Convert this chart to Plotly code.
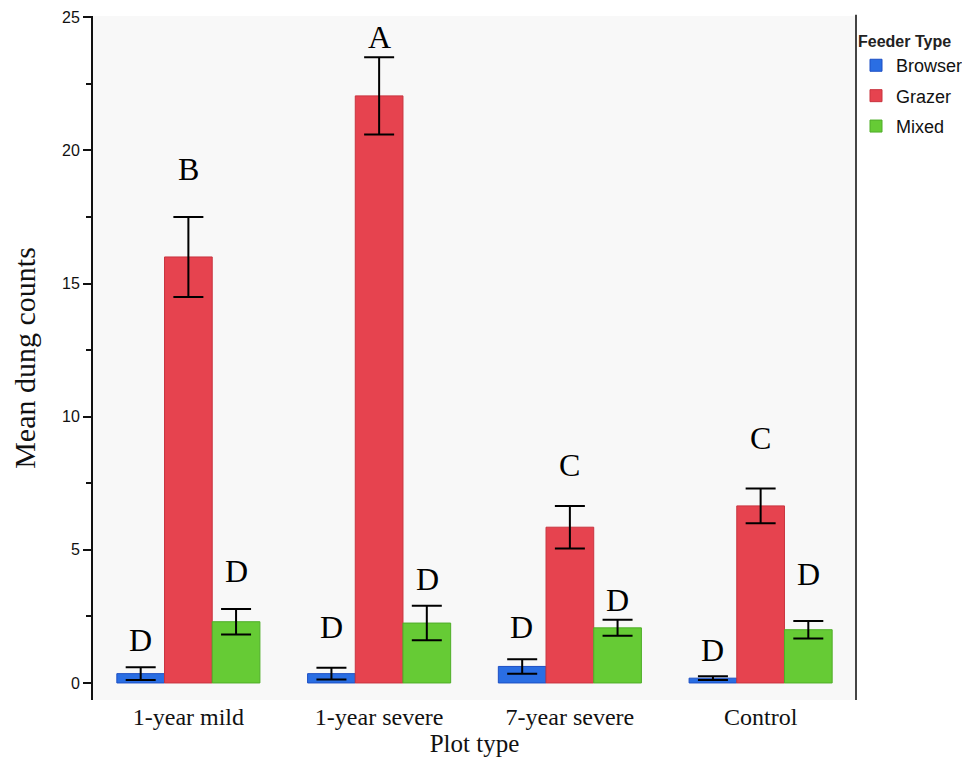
import plotly.graph_objects as go

categories = ["1-year mild", "1-year severe", "7-year severe", "Control"]
feeder_types = ["Browser", "Grazer", "Mixed"]

browser_mean = [0.35, 0.35, 0.62, 0.18]
browser_err = [0.24, 0.22, 0.27, 0.07]
grazer_mean = [16.0, 22.05, 5.85, 6.65]
grazer_err = [1.5, 1.45, 0.8, 0.65]
mixed_mean = [2.3, 2.25, 2.07, 2.0]
mixed_err = [0.48, 0.65, 0.3, 0.33]

browser_letters = ["D", "D", "D", "D"]
grazer_letters = ["B", "A", "C", "C"]
mixed_letters = ["D", "D", "D", "D"]
browser_letter_y = [1.6, 2.1, 2.1, 1.25]
grazer_letter_y = [19.3, 24.25, 8.2, 9.2]
mixed_letter_y = [4.2, 3.9, 3.1, 4.1]

colors = ["#2a6ee3", "#e6434f", "#66cb35"]
edges = ["#1d4fc4", "#c9343f", "#4fae28"]

means = [browser_mean, grazer_mean, mixed_mean]
errs = [browser_err, grazer_err, mixed_err]
letters = [browser_letters, grazer_letters, mixed_letters]
letter_y = [browser_letter_y, grazer_letter_y, mixed_letter_y]

fig = go.Figure()
for i, name in enumerate(feeder_types):
    fig.add_trace(go.Bar(
        x=categories, y=means[i], name=name, legendgroup=name,
        marker=dict(color=colors[i], line=dict(color=edges[i], width=1)),
        error_y=dict(type="data", array=errs[i], color="black", thickness=2, width=15),
    ))

serif = "Liberation Serif, DejaVu Serif, serif"
sans = "Liberation Sans, Arial, sans-serif"

offsets = [-48, 0, 48]
annotations = []
for i in range(3):
    for j, cat in enumerate(categories):
        annotations.append(dict(
            x=cat, y=letter_y[i][j], xref="x", yref="y", text=letters[i][j],
            showarrow=False, xshift=offsets[i],
            font=dict(family=serif, size=32, color="black"),
        ))

fig.update_layout(
    width=962, height=757,
    margin=dict(l=85, r=114, t=8, b=65, autoexpand=False),
    paper_bgcolor="white",
    plot_bgcolor="#f8f8f8",
    barmode="group",
    bargap=0.25,
    bargroupgap=0,
    annotations=annotations,
    legend=dict(
        title=dict(text="<b>Feeder Type</b>", font=dict(family=sans, size=16, color="#222")),
        font=dict(family=sans, size=18, color="#111"),
        x=1.0, y=0.985, xanchor="left", yanchor="top",
        bgcolor="rgba(0,0,0,0)", traceorder="grouped",
        tracegroupgap=4,
        itemwidth=30,
    ),
    xaxis=dict(
        title=dict(text="Plot type", font=dict(family=serif, size=25, color="#111"), standoff=4),
        tickfont=dict(family=serif, size=24, color="#111"),
        showline=False, ticks="", showgrid=False, automargin=False,
    ),
    yaxis=dict(
        title=dict(text="Mean dung counts", font=dict(family=serif, size=30, color="#111"), standoff=24),
        range=[-0.64, 25.05],
        tickvals=[0, 5, 10, 15, 20, 25],
        tickfont=dict(family=sans, size=16, color="#111"),
        ticks="outside", ticklen=8, tickwidth=2, tickcolor="#111",
        minor=dict(dtick=2.5, tick0=0, ticks="outside", ticklen=5, tickwidth=2, tickcolor="#111"),
        showline=True, linecolor="#111", linewidth=2,
        showgrid=False, zeroline=False, automargin=False,
    ),
    shapes=[dict(type="line", xref="paper", yref="paper", x0=1, x1=1, y0=0, y1=1.002,
                 line=dict(color="#444", width=2))],
)

fig.write_html("out.html")
